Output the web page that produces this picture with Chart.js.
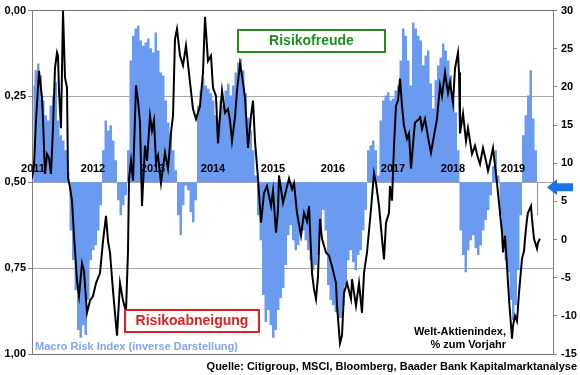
<!DOCTYPE html>
<html><head><meta charset="utf-8">
<script src="https://cdn.jsdelivr.net/npm/chart.js@4.4.1/dist/chart.umd.min.js"></script>
<style>html,body{margin:0;padding:0;background:#fff;}#wrap{width:580px;height:375px;}</style>
</head><body><div id="wrap"><canvas id="c" width="580" height="375"></canvas></div>
<script>
// ---- data ----
const yearLabels = ['2011','2012','2013','2014','2015','2016','2017','2018','2019'];
const yearMonths = [0,12,24,36,48,60,72,84,96];           // months since Jan 2011
const leftTickLabels = ['0,00','0,25','0,50','0,75','1,00'];
const rightTicks = [-15,-10,-5,0,5,10,15,20,25,30];
const riskBase = 0.5;
const riskStepMonths = 0.5;
// Macro Risk Index (inverse), one value per half month starting Jan 2011
const riskIndex = [
 .218,.174,.154,.189,.262,.305,.320,.276,.247,.209,
 .320,.363,.378,.407,.471,.640,.727,.814,.930,.953,
 .916,.945,.843,.727,.698,.683,.640,.567,.407,.320,
 .349,.334,.378,.436,.552,.596,.567,.538,.407,.145,
 .073,.052,.044,.087,.102,.093,.081,.110,.122,.064,
 .116,.180,.189,.262,.326,.355,.407,.465,.596,.654,
 .567,.509,.523,.587,.616,.552,.276,.233,.198,.218,
 .227,.241,.262,.305,.320,.262,.276,.233,.212,.247,
 .218,.180,.151,.140,.174,.241,.311,.349,.407,.480,
 .596,.669,.828,.907,.872,.916,.953,.930,.872,.837,
 .808,.741,.654,.625,.669,.698,.683,.654,.640,.669,
 .698,.727,.756,.741,.712,.625,.581,.640,.799,.843,
 .858,.878,.895,.895,.858,.799,.727,.698,.733,.756,
 .712,.698,.640,.581,.407,.392,.378,.407,.480,.320,
 .262,.247,.238,.262,.256,.233,.218,.145,.052,.073,
 .145,.218,.035,.052,.073,.087,.160,.131,.116,.212,
 .285,.203,.160,.137,.096,.116,.145,.189,.262,.297,
 .407,.640,.712,.762,.698,.669,.654,.692,.712,.683,
 .640,.610,.581,.538,.453,.407,.480,.596,.683,.727,
 .762,.843,.901,.858,.756,.596,.363,.305,.247,.174,
 .314,.407,.596
];
// Welt-Aktienindex, % zum Vorjahr
const worldMonths = [
 0,0.4,0.8,1.4,2.0,2.2,2.6,3.0,3.4,3.8,
 4.2,4.6,5.0,5.2,5.4,5.8,6.2,6.6,7.0,7.2,
 7.6,8.0,8.4,9.0,9.4,10.0,10.4,11.0,11.6,12.2,
 12.8,13.6,14.2,14.8,15.2,15.6,16.2,17.0,17.6,18.2,
 18.8,19.2,19.4,19.8,20.2,20.8,21.2,21.6,22.0,22.6,
 23.0,23.6,24.0,24.4,24.8,25.2,25.8,26.6,27.2,27.8,
 28.2,28.6,29.0,29.6,30.2,30.8,31.6,32.2,32.8,33.6,
 34.2,34.6,35.2,35.8,36.2,36.8,37.2,37.6,38.0,38.6,
 39.2,39.6,40.0,40.6,41.0,41.6,42.0,42.6,43.2,43.8,
 44.2,44.6,45.2,45.8,46.4,47.0,47.8,48.2,48.8,49.2,
 49.4,50.2,50.8,51.4,52.0,52.4,53.0,53.8,54.4,55.0,
 55.4,56.0,56.4,56.8,57.2,57.6,58.0,58.8,59.4,60.0,
 60.8,61.0,61.6,62.0,62.4,63.0,63.8,64.0,64.8,65.4,
 66.0,66.4,67.0,67.8,68.4,68.8,69.4,70.0,70.4,70.8,
 71.4,71.6,72.0,72.4,72.8,73.2,73.6,74.0,74.4,75.0,
 75.4,75.8,76.4,76.6,77.4,77.6,78.0,78.6,79.4,79.8,
 80.4,81.0,81.6,82.0,82.6,83.2,83.6,84.2,84.6,85.2,
 85.4,85.6,86.2,86.8,87.2,88.0,88.6,89.2,89.6,90.2,
 90.8,91.2,91.6,92.2,92.6,93.0,93.6,94.0,94.2,94.6,
 95.0,95.4,96.0,96.2,96.6,97.0,97.4,98.0,98.4,98.6,
 99.0,99.2,99.8,100.0,100.4,101.0,101.2,101.6
];
const worldValues = [
 8.0,9.7,15.6,22.1,18.6,15.6,8.6,11.2,10.7,8.6,
 14.6,22.5,24.5,24.1,19.5,14.6,30,21.2,19.9,8.1,
 6.8,5.1,0.5,-5.4,-7.4,-3.1,-4.1,-9.6,-8.0,-7.4,
 -5.7,-4.4,-0.2,3.1,-0.2,-1.7,-6.7,-12.6,-5.7,-8.0,
 -9.4,-1.5,8.0,10.3,7.7,20.2,18.2,15.3,4.4,12.3,
 10.3,16.2,14.3,15.6,10.1,11.0,7.4,11.4,9.3,14.0,
 16.2,26.3,27.6,24.1,22.8,25.4,20.6,17.1,15.8,17.5,
 21.9,29.2,23.4,24.1,19.9,18.8,12.6,16.2,19.5,16.6,
 17.1,15.6,12.9,16.0,19.5,23.0,21.5,18.6,12.0,16.2,
 18.2,12.9,8.0,2.2,6.1,7.0,4.4,6.4,0.9,3.8,
 8.4,4.8,6.4,8.0,6.6,7.4,3.5,0.5,3.5,2.4,
 4.4,-4.4,-6.5,-7.8,-4.8,2.7,0.1,-1.7,-2.1,-3.5,
 -5.7,-8.7,-13.6,-12.6,-7.0,-5.7,-7.8,-5.2,-8.7,-5.7,
 -9.6,-4.4,-1.7,4.0,8.7,7.4,4.4,0.1,-2.6,2.2,
 3.5,7.0,5.1,12.3,17.5,18.2,21.1,17.5,14.9,13.2,
 13.9,9.3,14.0,15.3,15.8,16.2,14.5,15.8,12.7,11.4,
 13.6,15.8,20.2,18.8,21.9,19.2,20.6,17.9,22.4,24.5,
 21.9,13.9,16.5,12.9,14.6,11.2,12.3,10.7,9.9,12.0,
 10.3,9.0,10.1,12.0,9.7,7.4,3.5,0.9,-1.7,0.5,
 -3.5,-7.8,-13.0,-11.3,-10.0,-10.7,-7.0,-2.5,-1.5,0.1,
 2.7,3.5,4.4,2.7,0.1,-1.2,-0.4,0.1
];
const xMaxMonths = 104.2;

// ---- build ----
const FONT = 'Arial, "Liberation Sans", sans-serif';
const riskData = riskIndex.map((v,i)=>({x:(i+0.5)*riskStepMonths, y:v}));
const n = Math.min(worldMonths.length, worldValues.length);
const lineData = [];
for(let i=0;i<n;i++) lineData.push({x:worldMonths[i], y:worldValues[i]});

const overlay = {
  id:'overlay',
  afterDatasetDraw(chart, args){
    if(args.index!==1) return;
    const ctx=chart.ctx, xs=chart.scales.x, ys=chart.scales.y;
    ctx.save();
    ctx.font='bold 11px '+FONT; ctx.fillStyle='#000'; ctx.textAlign='center'; ctx.textBaseline='middle';
    const yy=ys.getPixelForValue(riskBase)-13;
    yearLabels.forEach((t,i)=>ctx.fillText(t, xs.getPixelForValue(yearMonths[i])+1, yy));
    ctx.restore();
  },
  afterDraw(chart){
    const ctx=chart.ctx, ys=chart.scales.y;
    ctx.save();
    ctx.fillStyle='#fff'; ctx.fillRect(238,30,147,22);
    ctx.strokeStyle='#1e8c1e'; ctx.lineWidth=2; ctx.strokeRect(238,30,147,22);
    ctx.fillStyle='#1e8c1e'; ctx.font='bold 14px '+FONT; ctx.textAlign='center'; ctx.textBaseline='middle';
    ctx.fillText('Risikofreude', 311.5, 41.5);
    ctx.fillStyle='#fff'; ctx.fillRect(125,310,134,22);
    ctx.strokeStyle='#e0201e'; ctx.strokeRect(125,310,134,22);
    ctx.fillStyle='#e0201e'; ctx.fillText('Risikoabneigung', 192, 321.5);
    ctx.font='bold 11px '+FONT; ctx.textAlign='left';
    ctx.fillStyle='#7fa6ee'; ctx.fillText('Macro Risk Index (inverse Darstellung)', 35, 347);
    ctx.fillStyle='#000'; ctx.textAlign='right';
    ctx.fillText('Welt-Aktienindex,', 506, 332);
    ctx.fillText('% zum Vorjahr', 506, 345);
    ctx.fillText('Quelle: Citigroup, MSCI, Bloomberg, Baader Bank Kapitalmarktanalyse', 577, 367);
    const y0=ys.getPixelForValue(riskBase)+5;
    ctx.fillStyle='#1a72e6';
    ctx.beginPath();
    ctx.moveTo(547,y0); ctx.lineTo(557,y0-8); ctx.lineTo(557,y0-4); ctx.lineTo(573,y0-4);
    ctx.lineTo(573,y0+4); ctx.lineTo(557,y0+4); ctx.lineTo(557,y0+8); ctx.closePath(); ctx.fill();
    ctx.restore();
  }
};

new Chart(document.getElementById('c'), {
  type:'line',
  data:{datasets:[
    {label:'Welt-Aktienindex', data:lineData, yAxisID:'y2', borderColor:'#000', borderWidth:2,
     pointRadius:0, tension:0, fill:false},
    {label:'Macro Risk Index', data:riskData, yAxisID:'y', backgroundColor:'#6b9bf0',
     borderColor:'#6b9bf0', borderWidth:0, pointRadius:0, stepped:'middle', fill:{value:riskBase}}
  ]},
  plugins:[overlay],
  options:{
    responsive:false, animation:false, devicePixelRatio:1,
    layout:{padding:{top:10,bottom:21,left:0,right:0}},
    plugins:{legend:{display:false}, tooltip:{enabled:false}},
    scales:{
      x:{type:'linear', display:false, min:0, max:xMaxMonths, offset:false},
      y:{position:'left', min:0, max:1, reverse:true,
         afterFit(s){s.width=32;},
         ticks:{stepSize:0.25, padding:2, color:'#000', font:{family:FONT, size:11, weight:'bold'},
                callback:(v)=>leftTickLabels[Math.round(v*4)]},
         grid:{color:(c)=> (c.tick && (c.tick.value===0||c.tick.value===1))?'#707070':'#a8a8a8', tickLength:4, tickColor:'#808080'},
         border:{display:true, color:'#808080'}},
      y2:{position:'right', min:-15, max:30,
         afterFit(s){s.width=27;},
         afterBuildTicks(s){s.ticks=rightTicks.map(v=>({value:v}));},
         ticks:{padding:4, color:'#000', font:{family:FONT, size:11, weight:'bold'}},
         grid:{drawOnChartArea:false, tickLength:4, color:'#808080'},
         border:{display:true, color:'#808080'}}
    }
  }
});
</script></body></html>
